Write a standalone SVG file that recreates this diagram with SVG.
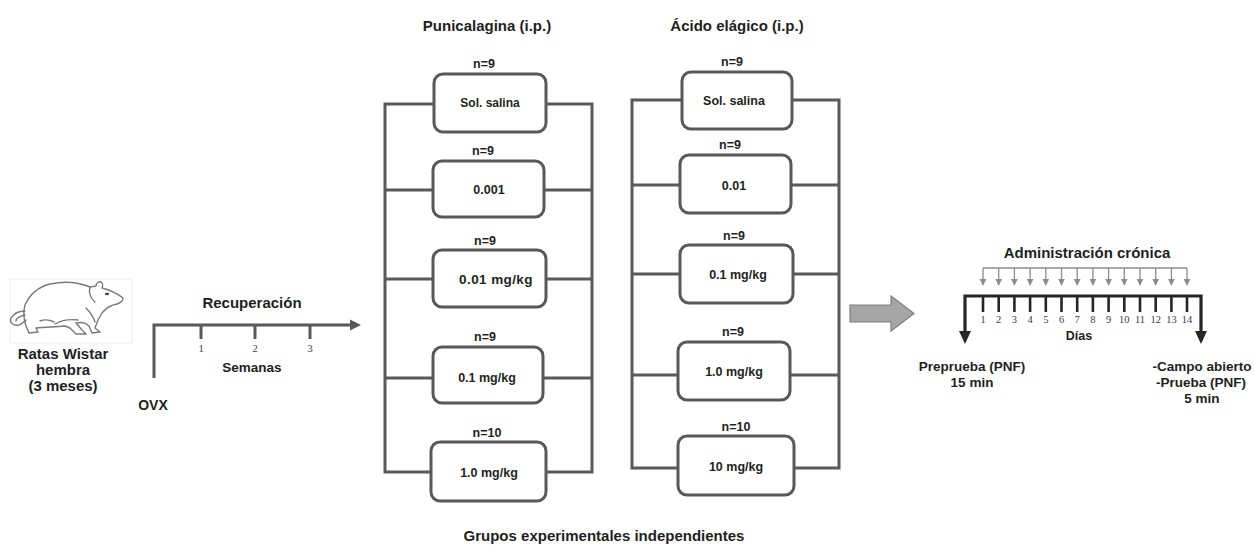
<svg xmlns="http://www.w3.org/2000/svg" width="1254" height="550" viewBox="0 0 1254 550">
  <style>
    .lbl { font-family: "Liberation Sans", Arial, sans-serif; font-weight: bold; fill: #1f1f1f; text-anchor: middle; }
    .t15 { font-size: 15px; }
    .t14 { font-size: 14px; }
    .t13 { font-size: 13.5px; }
    .t12 { font-size: 12.5px; }
    .num { font-family: "Liberation Serif", "DejaVu Serif", serif; font-size: 10.5px; fill: #404040; text-anchor: middle; }
    .box { fill: #ffffff; stroke: #595959; stroke-width: 3; }
    .wire { fill: none; stroke: #595959; stroke-width: 3; stroke-linejoin: miter; }
    .rat { fill: none; stroke: #7a7a7a; stroke-width: 1.4; stroke-linecap: round; stroke-linejoin: round; }
    .tick { stroke: #262626; stroke-width: 2.6; }
    .dose { stroke: #8c8c8c; stroke-width: 1.3; fill: none; }
  </style>
  <defs>
    <!-- small grey head for the daily dose arrows -->
    <marker id="doseHead" viewBox="0 0 10 10" refX="9" refY="5" markerWidth="7" markerHeight="8" markerUnits="userSpaceOnUse" orient="auto">
      <path d="M0,0 L10,5 L0,10 Z" fill="#8c8c8c"/>
    </marker>
  </defs>

  <rect width="1254" height="550" fill="#ffffff"/>

  <!-- rat sketch -->
  <g id="rat">
    <rect x="10" y="279" width="122" height="64" fill="#ffffff" stroke="#f0f0f0" stroke-width="1"/>
    <path class="rat" d="M25,305 C30,294 38,287 50,284 C64,281 78,282 90,287 L96,286 C96,283 99,281 101,282 C103,283 103,286 102,288 C110,290 118,294 123,298 C123,301 120,303 117,304 C111,305 106,308 102,313 L98,320 L95,328 L100,332 L92,333 L89,326 C85,322 80,322 76,323 L82,330 L86,334 L76,334 L70,328 L65,326 C55,327 45,327 36,328 L38,332 L29,333 L26,326 C24,320 23,312 25,305"/>
    <path class="rat" d="M25,311 C20,311 14,313 11,318 C9,323 14,326 19,325 C22,324 24,322 26,320"/>
    <path class="rat" d="M25,315 C20,316 16,318 16,321"/>
    <path class="rat" d="M90,287 C88,293 91,299 95,302"/>
    <ellipse cx="107" cy="294" rx="2.2" ry="1.3" fill="#444444"/>
    <path class="rat" d="M55,324 C62,320 70,319 78,320"/>
    <path class="rat" d="M86,308 C90,312 93,316 95,322"/>
    <path class="rat" d="M40,321 C45,319 50,320 54,322"/>
  </g>
  <g id="rat-label">
    <text class="lbl t15" x="63" y="359">Ratas Wistar</text>
    <text class="lbl t15" x="63" y="375">hembra</text>
    <text class="lbl t15" x="63" y="391">(3 meses)</text>
  </g>

  <!-- recovery timeline -->
  <g id="recuperacion">
    <path class="wire" d="M154,378 L154,325 L352,325"/>
    <path d="M350,319.5 L361,325 L350,330.5 Z" fill="#595959"/>
    <line x1="201" y1="325" x2="201" y2="339" stroke="#595959" stroke-width="3"/>
    <line x1="255" y1="325" x2="255" y2="339" stroke="#595959" stroke-width="3"/>
    <line x1="310" y1="325" x2="310" y2="339" stroke="#595959" stroke-width="3"/>
    <text class="num" x="201" y="352">1</text>
    <text class="num" x="255" y="352">2</text>
    <text class="num" x="310" y="352">3</text>
    <text class="lbl t15" x="252" y="308">Recuperación</text>
    <text class="lbl t13" x="252" y="372">Semanas</text>
    <text class="lbl t14" x="153" y="410">OVX</text>
  </g>

  <!-- column titles -->
  <text class="lbl t15" x="487" y="31">Punicalagina (i.p.)</text>
  <text class="lbl t15" x="737" y="31">Ácido elágico (i.p.)</text>

  <!-- connectors joining each group box to its column rails -->
  <g id="connectors">
    <path class="wire" d="M434,104 L385,104 L385,472 L431,472"/>
    <path class="wire" d="M385,190 L433,190 M385,279 L433,279 M385,378 L433,378"/>
    <path class="wire" d="M546,104 L592,104 L592,472 L546,472"/>
    <path class="wire" d="M544,190 L592,190 M546,279 L592,279 M543,378 L592,378"/>

    <path class="wire" d="M682,100 L632,100 L632,468 L678,468"/>
    <path class="wire" d="M632,185 L680,185 M632,274 L680,274 M632,375 L678,375"/>
    <path class="wire" d="M792,100 L839,100 L839,468 L794,468"/>
    <path class="wire" d="M791,185 L839,185 M793,274 L839,274 M790,375 L839,375"/>
  </g>

  <!-- Punicalagina groups -->
  <g id="pun-salina">
    <rect class="box" x="434" y="74" width="112" height="58" rx="9"/>
    <text class="lbl t12" x="484" y="68">n=9</text>
    <text class="lbl" style="font-size:12px" x="490" y="107">Sol. salina</text>
  </g>
  <g id="pun-0001">
    <rect class="box" x="433" y="161" width="111" height="56" rx="9"/>
    <text class="lbl t12" x="483" y="155">n=9</text>
    <text class="lbl t12" x="489" y="194">0.001</text>
  </g>
  <g id="pun-001">
    <rect class="box" x="433" y="250" width="113" height="57" rx="9"/>
    <text class="lbl t12" x="485" y="245">n=9</text>
    <text class="lbl" style="font-size:13.5px; letter-spacing:0.4px" x="496" y="284">0.01 mg/kg</text>
  </g>
  <g id="pun-01">
    <rect class="box" x="433" y="347" width="110" height="56" rx="9"/>
    <text class="lbl t12" x="485" y="341">n=9</text>
    <text class="lbl t12" x="487" y="382">0.1 mg/kg</text>
  </g>
  <g id="pun-10">
    <rect class="box" x="431" y="442" width="115" height="59" rx="9"/>
    <text class="lbl t12" x="487" y="437">n=10</text>
    <text class="lbl t12" x="489" y="477">1.0 mg/kg</text>
  </g>

  <!-- Acido elagico groups -->
  <g id="ae-salina">
    <rect class="box" x="682" y="72" width="110" height="57" rx="9"/>
    <text class="lbl t12" x="732" y="66">n=9</text>
    <text class="lbl t12" x="734" y="105">Sol. salina</text>
  </g>
  <g id="ae-001">
    <rect class="box" x="680" y="155" width="111" height="58" rx="9"/>
    <text class="lbl t12" x="730" y="149">n=9</text>
    <text class="lbl t12" x="734" y="190">0.01</text>
  </g>
  <g id="ae-01">
    <rect class="box" x="680" y="245" width="113" height="58" rx="9"/>
    <text class="lbl t12" x="734" y="240">n=9</text>
    <text class="lbl t12" x="738" y="279">0.1 mg/kg</text>
  </g>
  <g id="ae-10">
    <rect class="box" x="678" y="342" width="112" height="58" rx="9"/>
    <text class="lbl t12" x="733" y="336">n=9</text>
    <text class="lbl t12" x="734" y="376">1.0 mg/kg</text>
  </g>
  <g id="ae-100">
    <rect class="box" x="678" y="436" width="116" height="59" rx="9"/>
    <text class="lbl t12" x="736" y="431">n=10</text>
    <text class="lbl t12" x="736" y="471">10 mg/kg</text>
  </g>

  <text class="lbl t15" x="604" y="541">Grupos experimentales independientes</text>

  <!-- block arrow between phases -->
  <g id="flecha">
    <path d="M850,305 L891,305 L891,296 L914,313.5 L891,331 L891,322 L850,322 Z" fill="#a6a6a6" stroke="#7f7f7f" stroke-width="1.2"/>
  </g>

  <!-- chronic administration timeline -->
  <g id="cronica">
    <text class="lbl t15" x="1087" y="258">Administración crónica</text>
    <line class="dose" x1="983" y1="268" x2="1187" y2="268"/>
    <g class="dose" marker-end="url(#doseHead)">
      <line x1="983" y1="268" x2="983" y2="285"/>
      <line x1="998.7" y1="268" x2="998.7" y2="285"/>
      <line x1="1014.4" y1="268" x2="1014.4" y2="285"/>
      <line x1="1030.1" y1="268" x2="1030.1" y2="285"/>
      <line x1="1045.8" y1="268" x2="1045.8" y2="285"/>
      <line x1="1061.5" y1="268" x2="1061.5" y2="285"/>
      <line x1="1077.2" y1="268" x2="1077.2" y2="285"/>
      <line x1="1092.9" y1="268" x2="1092.9" y2="285"/>
      <line x1="1108.6" y1="268" x2="1108.6" y2="285"/>
      <line x1="1124.3" y1="268" x2="1124.3" y2="285"/>
      <line x1="1140" y1="268" x2="1140" y2="285"/>
      <line x1="1155.7" y1="268" x2="1155.7" y2="285"/>
      <line x1="1171.4" y1="268" x2="1171.4" y2="285"/>
      <line x1="1187" y1="268" x2="1187" y2="285"/>
    </g>

    <path d="M965,333 L965,296 L1201,296 L1201,333" fill="none" stroke="#262626" stroke-width="3.2"/>
    <path d="M959,331 L971,331 L965,344 Z" fill="#262626"/>
    <path d="M1195,331 L1207,331 L1201,344 Z" fill="#262626"/>

    <g class="tick">
      <line x1="983" y1="296" x2="983" y2="312"/>
      <line x1="998.7" y1="296" x2="998.7" y2="312"/>
      <line x1="1014.4" y1="296" x2="1014.4" y2="312"/>
      <line x1="1030.1" y1="296" x2="1030.1" y2="312"/>
      <line x1="1045.8" y1="296" x2="1045.8" y2="312"/>
      <line x1="1061.5" y1="296" x2="1061.5" y2="312"/>
      <line x1="1077.2" y1="296" x2="1077.2" y2="312"/>
      <line x1="1092.9" y1="296" x2="1092.9" y2="312"/>
      <line x1="1108.6" y1="296" x2="1108.6" y2="312"/>
      <line x1="1124.3" y1="296" x2="1124.3" y2="312"/>
      <line x1="1140" y1="296" x2="1140" y2="312"/>
      <line x1="1155.7" y1="296" x2="1155.7" y2="312"/>
      <line x1="1171.4" y1="296" x2="1171.4" y2="312"/>
      <line x1="1187" y1="296" x2="1187" y2="312"/>
    </g>
    <g class="num">
      <text x="983" y="323">1</text>
      <text x="998.7" y="323">2</text>
      <text x="1014.4" y="323">3</text>
      <text x="1030.1" y="323">4</text>
      <text x="1045.8" y="323">5</text>
      <text x="1061.5" y="323">6</text>
      <text x="1077.2" y="323">7</text>
      <text x="1092.9" y="323">8</text>
      <text x="1108.6" y="323">9</text>
      <text x="1124.3" y="323">10</text>
      <text x="1140" y="323">11</text>
      <text x="1155.7" y="323">12</text>
      <text x="1171.4" y="323">13</text>
      <text x="1187" y="323">14</text>
    </g>
    <text class="lbl t12" x="1079" y="340">Días</text>
  </g>

  <g id="prueba-inicial">
    <text class="lbl t13" x="972" y="371">Preprueba (PNF)</text>
    <text class="lbl t13" x="972" y="387">15 min</text>
  </g>
  <g id="prueba-final">
    <text class="lbl t13" x="1202" y="371">-Campo abierto</text>
    <text class="lbl t13" x="1201" y="387">-Prueba (PNF)</text>
    <text class="lbl t13" x="1202" y="403">5 min</text>
  </g>
</svg>
